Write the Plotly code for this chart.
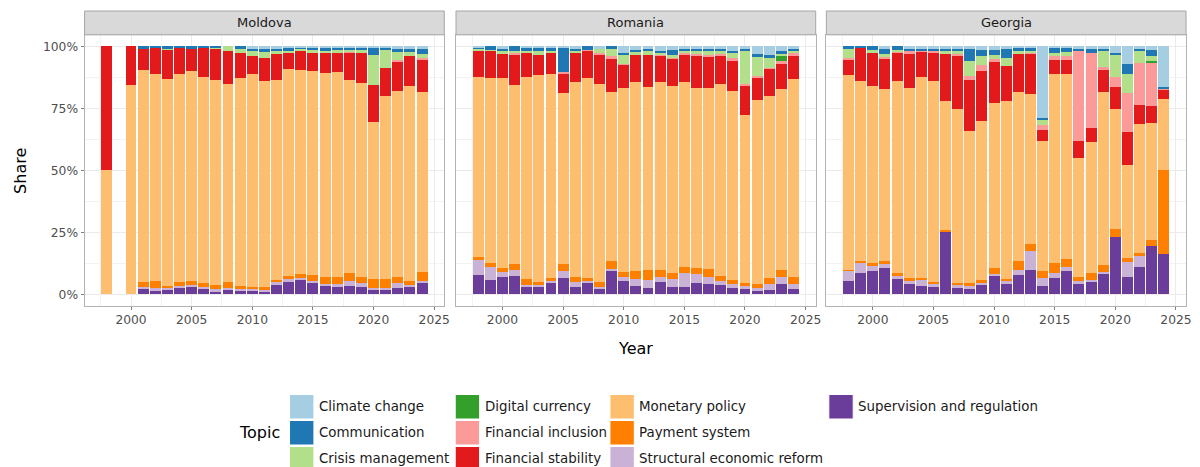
import plotly.graph_objects as go

# ---------------- data (shares in %) ----------------
TOPICS = ["Climate change", "Communication", "Crisis management", "Digital currency",
          "Financial inclusion", "Financial stability", "Monetary policy", "Payment system",
          "Structural economic reform", "Supervision and regulation"]
COLORS = ["#A6CEE3", "#1F78B4", "#B2DF8A", "#33A02C", "#FB9A99",
          "#E31A1C", "#FDBF6F", "#FF7F00", "#CAB2D6", "#6A3D9A"]
COUNTRIES = ["Moldova", "Romania", "Georgia"]
X_TICKS = [2000, 2005, 2010, 2015, 2020, 2025]
X_TICK_LABELS = ["2000", "2005", "2010", "2015", "2020", "2025"]
Y_TICKS = [0, 25, 50, 75, 100]
Y_TICK_LABELS = ["0%", "25%", "50%", "75%", "100%"]

md_years = [1998, 2000, 2001, 2002, 2003, 2004, 2005, 2006, 2007, 2008, 2009, 2010, 2011,
            2012, 2013, 2014, 2015, 2016, 2017, 2018, 2019, 2020, 2021, 2022, 2023, 2024]
md_cc = [0, 0, 0, 0, 0, 0, 0, 0, 0, 0, 0, 0.9, 0.7, 0.7, 0.4, 0.3, 0.4, 0.4, 0.4, 0.4, 0.4, 0.4, 0.4, 1.2, 0.7, 0.9]
md_co = [0, 0, 0.6, 0.3, 0.7, 0.3, 0.7, 0.4, 0.3, 0, 0.7, 0.9, 1.6, 1.3, 1.3, 0.9, 1.2, 1.3, 1.2, 1.2, 1.2, 3.2, 0.8, 0.8, 1.6, 2.0]
md_cm = [0, 0, 0, 0, 0.5, 0, 0, 0, 0.4, 2.0, 2.0, 2.2, 2.4, 0.7, 0.5, 0.5, 0.6, 1.0, 0.7, 0.4, 0.7, 12.0, 7.3, 3.4, 1.7, 1.7]
md_dc = [0, 0, 0, 0, 0, 0, 0, 0, 0, 0, 0, 0, 0, 0, 0, 0, 0, 0, 0, 0, 0, 0, 0, 0, 0, 0]
md_fi = [0, 0, 0, 0, 0, 0, 0, 0, 0, 0, 0, 0, 0, 0, 0, 0, 0, 0, 0, 0.3, 0, 0, 0, 0.6, 0, 0.7]
md_fs = [50, 15.5, 9.0, 10.7, 12.0, 10.7, 9.3, 12.0, 12.7, 13.2, 10.1, 7.2, 9.2, 10.8, 6.7, 7.7, 7.5, 8.0, 8.1, 11.4, 12.5, 15.0, 11.4, 12.1, 12.1, 13.1]
md_mp = [50, 84.5, 85.3, 83.6, 83.4, 84.0, 84.5, 82.9, 82.9, 80.0, 83.7, 85.7, 83.3, 80.6, 83.8, 82.5, 82.3, 82.2, 82.8, 77.8, 78.4, 63.2, 73.9, 74.8, 78.4, 72.4]
md_ps = [0, 0, 2.0, 3.0, 1.0, 1.5, 1.7, 1.6, 1.7, 2.2, 1.2, 0.8, 1.0, 1.0, 1.2, 1.6, 2.8, 2.8, 2.7, 3.1, 2.4, 3.5, 3.5, 2.7, 1.7, 3.8]
md_sr = [0, 0, 0.7, 0.7, 0.4, 0.7, 0.7, 0.7, 0.7, 0.9, 0.7, 0.7, 0.5, 0.7, 0.7, 0.5, 0.5, 0.8, 0.7, 2.0, 1.3, 0.7, 0.7, 1.7, 0.7, 0.7]
md_su = [0, 0, 2.4, 1.7, 2.0, 2.8, 3.1, 2.4, 1.3, 1.7, 1.6, 1.6, 1.3, 4.2, 5.4, 6.0, 4.7, 3.5, 3.4, 3.4, 3.1, 2.0, 2.0, 2.7, 3.1, 4.7]

ro_years = [1998, 1999, 2000, 2001, 2002, 2003, 2004, 2005, 2006, 2007, 2008, 2009, 2010, 2011,
            2012, 2013, 2014, 2015, 2016, 2017, 2018, 2019, 2020, 2021, 2022, 2023, 2024]
ro_cc = [0.3, 0, 0.7, 0, 0.4, 0.4, 0.4, 0.4, 0.7, 0, 0.7, 0, 2.7, 1.3, 0.7, 1.7, 1.3, 0.7, 0.9, 0.9, 0.7, 1.7, 0.9, 3.1, 3.6, 2.0, 0.9]
ro_co = [0.4, 1.3, 1.3, 1.7, 1.3, 1.3, 1.3, 10.0, 1.1, 1.3, 0, 0.9, 0.9, 0.9, 1.1, 0.7, 2.0, 1.1, 1.1, 1.1, 1.1, 0.7, 0.8, 0.7, 0.7, 1.1, 0.8]
ro_cm = [1.0, 0.4, 0.7, 0.9, 0.7, 1.9, 0.9, 0, 0.9, 0, 2.0, 3.1, 3.5, 1.3, 1.6, 0.9, 1.3, 0.9, 1.1, 1.6, 1.3, 2.3, 13.5, 8.3, 4.2, 0.9, 0.9]
ro_dc = [0, 0, 0, 0, 0, 0, 0, 0, 0, 0, 0, 0, 0, 0, 0, 0, 0, 0, 0, 0, 0, 0, 0, 0, 0, 2.0, 0]
ro_fi = [0, 0, 0, 0.4, 0, 0, 0, 0.4, 0, 0.1, 0.4, 0.7, 0.3, 0, 0, 0.3, 0.3, 0.4, 0.5, 0.4, 0.3, 0.7, 0.3, 0.3, 0.5, 0.6, 1.3]
ro_fs = [10.8, 11.0, 10.1, 12.4, 10.1, 7.8, 8.5, 7.8, 11.7, 11.5, 12.1, 13.7, 9.4, 10.8, 12.8, 10.8, 11.2, 11.3, 13.2, 12.8, 11.8, 12.5, 12.1, 9.2, 10.8, 10.4, 9.2]
ro_mp = [72.6, 74.5, 76.7, 72.4, 81.5, 83.6, 82.2, 69.1, 78.5, 80.4, 79.8, 68.3, 74.1, 76.2, 73.9, 75.7, 75.1, 74.4, 72.4, 73.0, 77.3, 76.3, 68.0, 74.3, 73.8, 73.1, 79.7]
ro_ps = [1.1, 1.6, 1.3, 2.3, 2.3, 1.3, 1.2, 2.7, 2.3, 1.3, 2.0, 3.0, 2.3, 3.4, 4.3, 3.0, 2.6, 2.7, 2.6, 3.0, 2.0, 1.6, 1.1, 1.7, 2.3, 3.1, 3.0]
ro_sr = [6.0, 5.4, 2.3, 2.4, 0.9, 0.9, 0.8, 3.1, 1.7, 0.7, 0.9, 0.7, 1.3, 2.6, 3.1, 2.0, 3.1, 5.4, 3.5, 3.0, 1.7, 1.7, 1.3, 1.1, 2.4, 2.6, 2.2]
ro_su = [7.8, 5.8, 6.9, 7.5, 2.8, 2.8, 4.7, 6.5, 3.1, 4.7, 2.1, 9.6, 5.5, 3.5, 2.5, 4.9, 3.1, 3.1, 4.7, 4.2, 3.8, 2.5, 2.0, 1.3, 1.7, 4.2, 2.0]

ge_years = [1998, 1999, 2000, 2001, 2002, 2003, 2004, 2005, 2006, 2007, 2008, 2009, 2010, 2011,
            2012, 2013, 2014, 2015, 2016, 2017, 2018, 2019, 2020, 2021, 2022, 2023, 2024]
ge_cc = [0, 0, 0, 0.7, 0, 0.7, 0.7, 0.7, 0.7, 0.7, 0.7, 1.3, 1.3, 0.7, 0.4, 0.4, 28.7, 0.4, 0.4, 1.1, 0.7, 0.7, 2.7, 7.1, 0.7, 1.3, 16.5]
ge_co = [0.7, 0.5, 1.3, 2.4, 1.3, 1.3, 0.7, 1.3, 1.3, 1.3, 5.1, 2.7, 2.0, 4.0, 1.3, 1.3, 1.1, 2.3, 1.9, 0.9, 2.0, 0.7, 0.9, 4.0, 0.7, 2.7, 0.5]
ge_cm = [4.0, 0, 1.3, 1.3, 0.5, 0, 0, 0, 0.7, 0.7, 6.3, 3.6, 1.6, 3.0, 1.3, 0.5, 1.9, 1.3, 1.7, 0, 0, 6.7, 8.9, 7.7, 5.4, 2.0, 0]
ge_dc = [0, 0, 0, 0, 0, 0, 0, 0, 0, 0, 0, 0, 0, 0, 0, 0, 0, 0, 0, 0, 0, 0, 0, 0, 0, 0.3, 0]
ge_fi = [0.3, 0, 0, 0.5, 0.4, 0.7, 0.7, 0.3, 0, 0.7, 1.3, 2.2, 1.5, 0, 0, 0.5, 2.0, 1.3, 1.3, 36.3, 30.3, 1.3, 4.0, 15.7, 16.8, 17.9, 0.4]
ge_fs = [6.5, 13.4, 13.5, 12.2, 11.6, 14.1, 10.4, 11.8, 19.5, 21.8, 20.6, 20.2, 16.4, 14.5, 15.3, 16.5, 4.4, 5.8, 5.8, 6.7, 5.7, 9.0, 8.6, 13.4, 7.8, 6.7, 3.6]
ge_mp = [78.5, 72.5, 71.4, 69.5, 77.5, 76.8, 80.8, 80.8, 51.8, 70.3, 61.6, 64.2, 66.4, 71.7, 68.1, 60.6, 52.5, 76.4, 74.8, 48.2, 52.7, 69.7, 48.6, 37.6, 51.8, 47.1, 29.0]
ge_ps = [0.5, 1.0, 1.0, 1.3, 1.2, 0.9, 0.9, 0.7, 0.7, 0.3, 0.7, 1.1, 2.4, 0.9, 3.8, 2.6, 2.7, 4.0, 3.0, 1.6, 2.7, 2.7, 3.0, 1.3, 1.3, 2.3, 33.6]
ge_sr = [4.0, 3.8, 1.9, 1.3, 1.3, 1.5, 2.3, 1.6, 0, 1.7, 1.7, 0.9, 0.9, 0.7, 2.0, 7.8, 3.2, 2.0, 1.7, 0.7, 0.7, 0.7, 0, 6.0, 4.3, 0, 0]
ge_su = [5.5, 8.8, 9.6, 10.8, 6.2, 4.0, 3.5, 2.8, 25.3, 2.5, 2.0, 3.8, 7.5, 4.5, 7.8, 9.8, 3.5, 6.5, 9.4, 4.5, 5.2, 8.5, 23.3, 7.2, 11.2, 19.7, 16.4]

# ---------------- assemble ----------------
SERIES = {
    "Moldova": (md_years, [md_cc, md_co, md_cm, md_dc, md_fi, md_fs, md_mp, md_ps, md_sr, md_su]),
    "Romania": (ro_years, [ro_cc, ro_co, ro_cm, ro_dc, ro_fi, ro_fs, ro_mp, ro_ps, ro_sr, ro_su]),
    "Georgia": (ge_years, [ge_cc, ge_co, ge_cm, ge_dc, ge_fi, ge_fs, ge_mp, ge_ps, ge_sr, ge_su]),
}

W, H = 1200, 467
PANEL_X = [(85, 446.5), (458.3, 819.8), (830.5, 1192)]
PANEL_Y = (34.8, 305.5)
STRIP_Y = (11, 34.8)
FONT = "DejaVu Sans"


def px(x):
    return x / W


def py(y):
    return 1 - y / H


fig = go.Figure()
for i, country in enumerate(COUNTRIES):
    years, vals = SERIES[country]
    sfx = "" if i == 0 else str(i + 1)
    # ggplot stacks the first factor level on top -> add from the last topic upward
    for t in range(len(TOPICS) - 1, -1, -1):
        fig.add_trace(go.Bar(
            x=years, y=vals[t], name=TOPICS[t], marker=dict(color=COLORS[t], line=dict(width=0)),
            width=0.9, xaxis="x" + sfx, yaxis="y" + sfx, showlegend=False,
            hovertemplate=country + " %{x}<br>" + TOPICS[t] + ": %{y:.1f}%<extra></extra>",
        ))

layout = dict(
    width=W, height=H, margin=dict(l=0, r=0, t=0, b=0),
    paper_bgcolor="white", plot_bgcolor="white",
    barmode="stack", barnorm="percent",
    font=dict(family=FONT, color="#1A1A1A"),
    showlegend=False,
)

shapes = []
annotations = []
for i, country in enumerate(COUNTRIES):
    sfx = "" if i == 0 else str(i + 1)
    x0, x1 = PANEL_X[i]
    layout["xaxis" + sfx] = dict(
        domain=[px(x0), px(x1)], anchor="y" + sfx, range=[1996.17, 2025.83],
        tickvals=X_TICKS, ticktext=X_TICK_LABELS, ticks="outside", ticklen=3, tickcolor="#7F7F7F",
        tickfont=dict(size=12.3, color="#4D4D4D", family=FONT),
        showgrid=True, gridcolor="#EBEBEB", gridwidth=1, zeroline=False,
        minor=dict(tickvals=[1997.5, 2002.5, 2007.5, 2012.5, 2017.5, 2022.5], showgrid=True,
                   gridcolor="#F3F3F3", gridwidth=0.5, ticks=""),
        showline=True, mirror=True, linecolor="#B3B3B3", linewidth=1, fixedrange=True,
    )
    layout["yaxis" + sfx] = dict(
        domain=[py(PANEL_Y[1]), py(PANEL_Y[0])], anchor="x" + sfx, range=[-4.5, 104.7],
        tickvals=Y_TICKS, ticktext=Y_TICK_LABELS,
        ticks="outside" if i == 0 else "", ticklen=3, tickcolor="#7F7F7F",
        showticklabels=(i == 0), tickfont=dict(size=12.3, color="#4D4D4D", family=FONT),
        showgrid=True, gridcolor="#EBEBEB", gridwidth=1, zeroline=False,
        minor=dict(tickvals=[12.5, 37.5, 62.5, 87.5], showgrid=True, gridcolor="#F3F3F3",
                   gridwidth=0.5, ticks=""),
        showline=True, mirror=True, linecolor="#B3B3B3", linewidth=1, fixedrange=True,
    )
    # facet strip
    shapes.append(dict(type="rect", xref="paper", yref="paper",
                       x0=px(x0), x1=px(x1), y0=py(STRIP_Y[1]), y1=py(STRIP_Y[0]),
                       fillcolor="#D9D9D9", line=dict(color="#A6A6A6", width=1), layer="above"))
    annotations.append(dict(xref="paper", yref="paper", x=px((x0 + x1) / 2),
                            y=py((STRIP_Y[0] + STRIP_Y[1]) / 2), text=country, showarrow=False,
                            xanchor="center", yanchor="middle",
                            font=dict(size=13, color="#1A1A1A", family=FONT)))

# axis titles
annotations.append(dict(xref="paper", yref="paper", x=px(638.5), y=py(348), text="Year",
                        showarrow=False, xanchor="center", yanchor="middle",
                        font=dict(size=16, color="#000000", family=FONT)))
annotations.append(dict(xref="paper", yref="paper", x=px(20), y=py(171), text="Share",
                        showarrow=False, xanchor="center", yanchor="middle", textangle=-90,
                        font=dict(size=16, color="#000000", family=FONT)))

# legend (ggplot style, filled column by column, 3 rows)
KEY_COL_X = [291, 457.5, 613, 833]
KEY_ROW_Y = [394.5, 420.5, 446.5]
KEY_W, KEY_H = 24.5, 24.5
annotations.append(dict(xref="paper", yref="paper", x=px(238), y=py(432.5), text="Topic",
                        showarrow=False, xanchor="left", yanchor="middle",
                        font=dict(size=16, color="#000000", family=FONT)))
for k, (topic, color) in enumerate(zip(TOPICS, COLORS)):
    c, r = divmod(k, 3)
    kx, ky = KEY_COL_X[c], KEY_ROW_Y[r]
    shapes.append(dict(type="rect", xref="paper", yref="paper",
                       x0=px(kx), x1=px(kx + KEY_W), y0=py(ky + KEY_H), y1=py(ky),
                       fillcolor=color, line=dict(color="white", width=1)))
    annotations.append(dict(xref="paper", yref="paper", x=px(kx + KEY_W + 3), y=py(ky + KEY_H / 2),
                            text=topic, showarrow=False, xanchor="left", yanchor="middle",
                            font=dict(size=13.4, color="#1A1A1A", family=FONT)))

layout["shapes"] = shapes
layout["annotations"] = annotations
fig.update_layout(**layout)
fig.write_html("out.html", config={"displayModeBar": False},
               post_script="document.body.style.margin='0';document.body.style.overflow='hidden';")
